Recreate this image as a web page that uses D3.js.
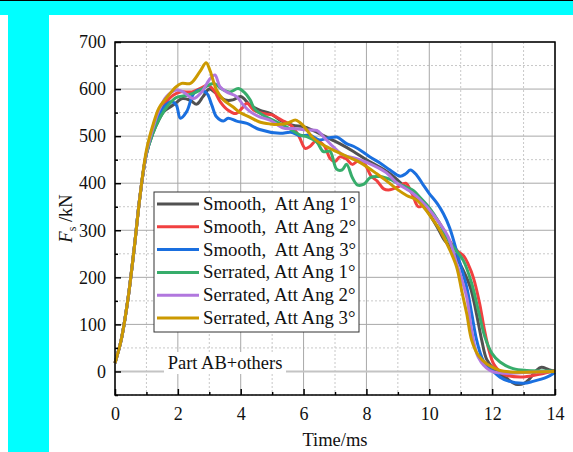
<!DOCTYPE html>
<html>
<head>
<meta charset="utf-8">
<script src="https://cdn.jsdelivr.net/npm/d3@7"></script>
<style>
  body { margin: 0; background: #fff; }
  svg { display: block; font-family: "Liberation Serif", "Times New Roman", serif; }
</style>
</head>
<body>
<script>
var width = 573;
var height = 452;

// values: [time ms, force kN]
var smooth1 = [[0,18],[0.2,68],[0.4,148],[0.6,255],[0.8,375],[1.0,462],[1.2,505],[1.4,535],[1.55,552],[1.85,566],[2.15,580],[2.4,576],[2.6,568],[2.8,584],[3.0,600],[3.2,592],[3.5,577],[3.75,577],[4.0,584],[4.3,566],[4.6,555],[4.95,548],[5.25,534],[5.65,523],[6.0,520],[6.3,512],[6.7,499],[7.15,484],[7.6,467],[8.0,450],[8.4,435],[8.75,420],[9.15,397],[9.6,371],[9.9,345],[10.25,307],[10.45,282],[10.65,265],[10.95,232],[11.3,180],[11.5,123],[11.67,66],[11.83,25],[12.1,2],[12.45,-14],[12.75,-27],[13.0,-26],[13.2,-15],[13.42,3],[13.57,9],[13.8,4],[14,0]];
var smooth2 = [[0,18],[0.2,68],[0.4,148],[0.6,255],[0.8,375],[1.0,464],[1.2,512],[1.4,548],[1.6,570],[1.85,587],[2.1,594],[2.45,594],[2.7,601],[2.95,608],[3.15,597],[3.35,573],[3.6,555],[3.85,548],[4.05,560],[4.2,570],[4.4,556],[4.7,548],[5.0,545],[5.3,534],[5.6,523],[5.85,500],[6.05,474],[6.2,478],[6.4,490],[6.65,480],[6.85,452],[7.0,446],[7.15,456],[7.35,452],[7.55,440],[7.75,448],[7.95,440],[8.15,415],[8.35,404],[8.55,388],[8.75,386],[9.0,392],[9.25,400],[9.45,378],[9.65,350],[9.85,353],[10.05,340],[10.3,318],[10.5,296],[10.7,272],[10.9,256],[11.1,245],[11.25,226],[11.4,200],[11.6,145],[11.75,90],[11.9,45],[12.05,16],[12.35,-5],[12.9,-12],[13.5,-6],[14,2]];
var smooth3 = [[0,18],[0.2,68],[0.4,148],[0.6,255],[0.8,375],[1.0,463],[1.2,508],[1.4,543],[1.55,562],[1.8,573],[1.95,566],[2.08,538],[2.28,552],[2.5,590],[2.7,598],[2.92,591],[3.08,566],[3.23,541],[3.45,532],[3.6,538],[3.87,532],[4.2,527],[4.6,514],[5.25,506],[5.6,508],[5.9,501],[6.2,502],[6.5,492],[6.8,496],[7.05,498],[7.37,484],[7.6,478],[7.9,466],[8.1,456],[8.43,443],[8.75,428],[9.07,415],[9.25,420],[9.4,428],[9.6,417],[9.8,397],[10.0,378],[10.25,357],[10.45,335],[10.65,305],[10.98,229],[11.19,179],[11.35,123],[11.51,66],[11.72,23],[12.0,2],[12.25,-12],[12.5,-20],[13.0,-25],[13.3,-21],[13.74,-12],[14,-2]];
var serr1 = [[0,18],[0.2,68],[0.4,148],[0.6,255],[0.8,375],[1.0,462],[1.2,505],[1.4,535],[1.65,562],[1.95,582],[2.3,587],[2.6,594],[2.9,605],[3.13,612],[3.45,598],[3.66,594],[3.92,601],[4.1,594],[4.3,577],[4.45,557],[4.8,541],[5.15,530],[5.55,516],[5.9,502],[6.1,499],[6.42,487],[6.63,467],[6.84,468],[7.05,430],[7.22,428],[7.37,440],[7.55,412],[7.72,396],[7.92,398],[8.12,412],[8.43,414],[8.75,408],[9.05,398],[9.25,392],[9.5,384],[9.7,370],[10.0,348],[10.3,318],[10.55,285],[10.77,264],[11.08,236],[11.35,187],[11.56,130],[11.77,73],[12.0,38],[12.25,20],[12.67,6],[13.1,2],[14,1]];
var serr2 = [[0,18],[0.2,68],[0.4,148],[0.6,255],[0.8,375],[1.0,465],[1.2,515],[1.4,555],[1.64,584],[1.96,598],[2.17,594],[2.49,580],[2.76,594],[3.0,620],[3.18,630],[3.34,605],[3.55,594],[3.87,584],[4.08,566],[4.3,552],[4.6,541],[4.93,534],[5.36,517],[5.67,516],[6.1,513],[6.42,512],[6.63,499],[6.95,477],[7.26,460],[7.69,452],[8.22,438],[8.64,422],[8.96,401],[9.49,378],[9.92,350],[10.34,314],[10.6,286],[10.87,230],[11.19,158],[11.35,87],[11.56,30],[11.93,2],[12.4,-4],[13,-2],[14,0]];
var serr3 = [[0,18],[0.2,68],[0.4,148],[0.6,255],[0.8,375],[1.0,470],[1.2,522],[1.4,560],[1.6,578],[1.95,605],[2.12,612],[2.4,612],[2.7,637],[2.9,656],[3.02,640],[3.23,598],[3.45,577],[3.76,562],[3.98,550],[4.3,540],[4.6,530],[4.93,526],[5.25,525],[5.5,528],[5.75,534],[5.95,525],[6.1,513],[6.31,496],[6.63,481],[7.05,467],[7.37,457],[7.69,448],[8.01,435],[8.33,420],[8.64,405],[8.96,388],[9.28,374],[9.6,364],[9.81,350],[10.13,321],[10.34,300],[10.66,257],[10.87,222],[11.03,172],[11.19,123],[11.35,66],[11.56,34],[11.83,16],[12.25,2],[12.57,-1],[14,0]];

var seriesNames = ['Smooth,  Att Ang 1\u00b0', 'Smooth,  Att Ang 2\u00b0', 'Smooth,  Att Ang 3\u00b0',
                   'Serrated, Att Ang 1\u00b0', 'Serrated, Att Ang 2\u00b0', 'Serrated, Att Ang 3\u00b0'];
var seriesColors = ['#515151', '#F14040', '#1A6FDF', '#37AD6B', '#B177DE', '#CC9900'];
var seriesData = [smooth1, smooth2, smooth3, serr1, serr2, serr3];

var xTicks = [0, 2, 4, 6, 8, 10, 12, 14];
var xMinor = [1, 3, 5, 7, 9, 11, 13];
var yTicks = [0, 100, 200, 300, 400, 500, 600, 700];
var yMinor = [-50, 50, 150, 250, 350, 450, 550, 650];

var svg = d3.select('body').append('svg')
    .attr('width', width)
    .attr('height', height);

// page decoration
svg.append('rect').attr('x', 0).attr('y', 0).attr('width', width).attr('height', 15).attr('fill', '#00FFFF');
svg.append('rect').attr('x', 0).attr('y', 0).attr('width', width).attr('height', 1).attr('fill', '#000');
svg.append('rect').attr('x', 8).attr('y', 15).attr('width', 41).attr('height', height - 15).attr('fill', '#00FFFF');

var x = d3.scaleLinear().domain([0, 14]).range([115, 555]);
var y = d3.scaleLinear().domain([-50, 700]).range([395, 42]);

// grid
var grid = svg.append('g');
grid.selectAll('.vmin').data(xMinor).enter().append('line')
    .attr('x1', d => x(d)).attr('x2', d => x(d)).attr('y1', y(700)).attr('y2', y(-50))
    .attr('stroke', '#c8c8c8').attr('stroke-dasharray', '2,2');
grid.selectAll('.hmin').data(yMinor).enter().append('line')
    .attr('y1', d => y(d)).attr('y2', d => y(d)).attr('x1', x(0)).attr('x2', x(14))
    .attr('stroke', '#c8c8c8').attr('stroke-dasharray', '2,2');
grid.selectAll('.vmaj').data(xTicks).enter().append('line')
    .attr('x1', d => x(d)).attr('x2', d => x(d)).attr('y1', y(700)).attr('y2', y(-50))
    .attr('stroke', '#a8a8a8');
grid.selectAll('.hmaj').data(yTicks).enter().append('line')
    .attr('y1', d => y(d)).attr('y2', d => y(d)).attr('x1', x(0)).attr('x2', x(14))
    .attr('stroke', d => d == 0 ? '#c4c4c4' : '#a8a8a8')
    .attr('stroke-width', d => d == 0 ? 2 : 1);

// annotation sits on the zero line with a white box behind it
var note = svg.append('g');
note.append('rect').attr('x', 164).attr('y', 352).attr('width', 122).attr('height', 22).attr('fill', '#fff');
note.append('text').attr('x', 225).attr('y', 369).attr('text-anchor', 'middle')
    .attr('font-size', 18.5).attr('fill', '#111').text('Part AB+others');

// curves
var line = d3.line()
    .x(d => x(d[0]))
    .y(d => y(d[1]))
    .curve(d3.curveCatmullRom.alpha(0.5));

svg.append('g').selectAll('path')
    .data(seriesData)
    .enter()
    .append('path')
    .attr('d', line)
    .attr('fill', 'none')
    .attr('stroke', (d, i) => seriesColors[i])
    .attr('stroke-width', 3)
    .attr('stroke-linejoin', 'round');

// axes
svg.append('g').attr('transform', 'translate(0,' + y(-50) + ')')
    .call(d3.axisBottom(x).tickValues(xTicks).tickSize(-6).tickPadding(12).tickFormat(d3.format('d')));
svg.append('g').attr('transform', 'translate(0,' + y(-50) + ')')
    .call(d3.axisBottom(x).tickValues(xMinor).tickSize(-3).tickFormat(''));
svg.append('g').attr('transform', 'translate(' + x(0) + ',0)')
    .call(d3.axisLeft(y).tickValues(yTicks).tickSize(-6).tickPadding(9).tickFormat(d3.format('d')));
svg.append('g').attr('transform', 'translate(' + x(0) + ',0)')
    .call(d3.axisLeft(y).tickValues(yMinor).tickSize(-3).tickFormat(''));

svg.selectAll('.domain').remove();
svg.selectAll('.tick line').attr('stroke', '#000').attr('stroke-width', 1.5);
svg.selectAll('.tick text').attr('font-size', 18).attr('fill', '#111').attr('font-family', '"Liberation Serif", serif');

// frame
svg.append('rect')
    .attr('x', x(0)).attr('y', y(700))
    .attr('width', x(14) - x(0)).attr('height', y(-50) - y(700))
    .attr('fill', 'none').attr('stroke', '#000').attr('stroke-width', 1.5);

// legend
var legend = svg.append('g');
legend.append('rect').attr('x', 154).attr('y', 192).attr('width', 205).attr('height', 140)
    .attr('fill', '#fff').attr('stroke', '#333').attr('stroke-width', 1);
var rows = legend.selectAll('.row').data(seriesNames).enter().append('g')
    .attr('transform', (d, i) => 'translate(0,' + (204 + i * 22.8) + ')');
rows.append('line').attr('x1', 157).attr('x2', 199).attr('y1', 0).attr('y2', 0)
    .attr('stroke', (d, i) => seriesColors[i]).attr('stroke-width', 3);
rows.append('text').attr('x', 203).attr('y', 6).attr('font-size', 18.8).attr('fill', '#111')
    .style('white-space', 'pre').text(d => d);

// axis titles
svg.append('text').attr('x', (x(0) + x(14)) / 2).attr('y', 446).attr('text-anchor', 'middle')
    .attr('font-size', 18.5).attr('fill', '#111').text('Time/ms');
var yt = svg.append('text').attr('transform', 'translate(72,' + ((y(700) + y(-50)) / 2) + ') rotate(-90)')
    .attr('text-anchor', 'middle').attr('font-size', 18.5).attr('fill', '#111');
yt.append('tspan').attr('font-style', 'italic').text('F');
yt.append('tspan').attr('font-size', 12).attr('dy', 4).text('s');
yt.append('tspan').attr('dy', -4).style('white-space', 'pre').text(' /kN');
</script>
</body>
</html>
